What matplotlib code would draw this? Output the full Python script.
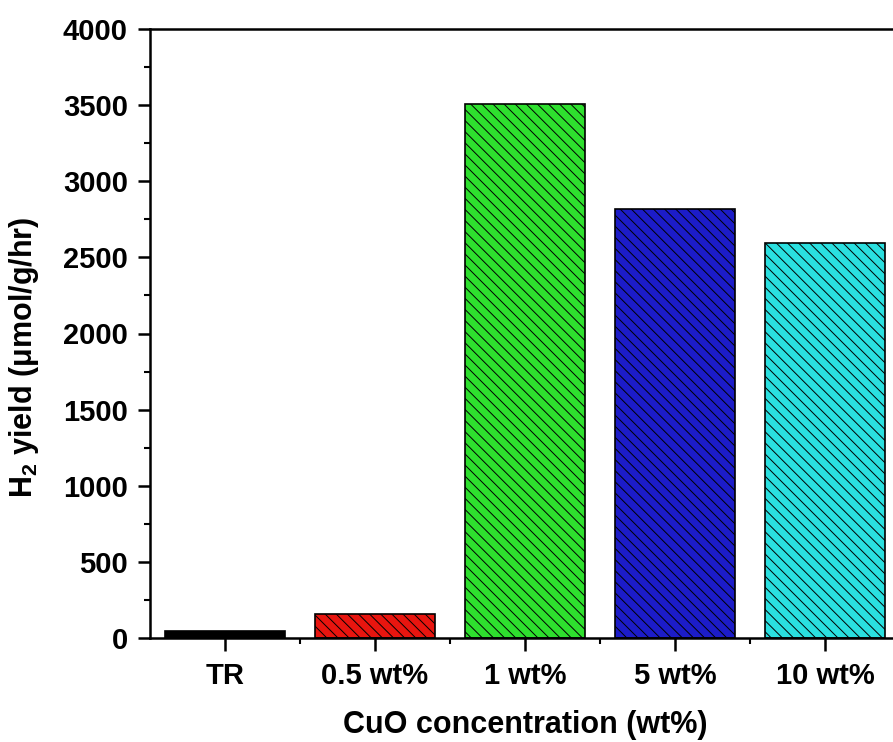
import matplotlib.pyplot as plt
from matplotlib.ticker import MultipleLocator, FixedLocator

# data
categories = ['TR', '0.5 wt%', '1 wt%', '5 wt%', '10 wt%']
h2_yield = [45, 158, 3505, 2815, 2595]
bar_colors = ['#000000', '#e8150f', '#2ee02e', '#1c1cc8', '#2ae0e0']

plt.rcParams['font.family'] = ['Liberation Sans', 'DejaVu Sans']
plt.rcParams['font.weight'] = 'bold'
plt.rcParams['mathtext.fontset'] = 'custom'
plt.rcParams['mathtext.rm'] = 'Liberation Sans:bold'
plt.rcParams['mathtext.bf'] = 'Liberation Sans:bold'
plt.rcParams['hatch.color'] = '#000000'
plt.rcParams['hatch.linewidth'] = 0.7

fig = plt.figure(figsize=(8.93, 7.42), dpi=100)
# axes runs past the right edge, as in the cropped original
ax = fig.add_axes([150 / 893, 1 - 638 / 742, 750 / 893, 609 / 742])

x = range(len(categories))
ax.bar(x, h2_yield, width=0.8, color=bar_colors, edgecolor='black',
       linewidth=1.2, hatch='\\\\\\')

ax.set_xlim(-0.5, 4.5)
ax.set_ylim(0, 4000)
ax.set_xticks(list(x))
ax.set_xticklabels(categories, fontsize=21, fontweight='bold')
ax.xaxis.set_minor_locator(FixedLocator([0.5, 1.5, 2.5, 3.5]))
ax.yaxis.set_major_locator(MultipleLocator(500))
ax.yaxis.set_minor_locator(MultipleLocator(250))
for lab in ax.get_yticklabels():
    lab.set_fontsize(21)
    lab.set_fontweight('bold')

for s in ax.spines.values():
    s.set_linewidth(1.8)
ax.tick_params(axis='both', which='major', direction='out', length=9, width=1.8)
ax.tick_params(axis='both', which='minor', direction='out', length=4.5, width=1.5)
ax.tick_params(axis='x', which='major', pad=8)
ax.tick_params(axis='y', which='major', pad=7)

ax.set_xlabel('CuO concentration (wt%)', fontsize=22, fontweight='bold', labelpad=15)
ax.set_ylabel(r'H$_{2}$ yield (μmol/g/hr)', fontsize=22, fontweight='bold')
ax.yaxis.set_label_coords(-0.145, 0.46)

fig.savefig('out.png', dpi=100)
